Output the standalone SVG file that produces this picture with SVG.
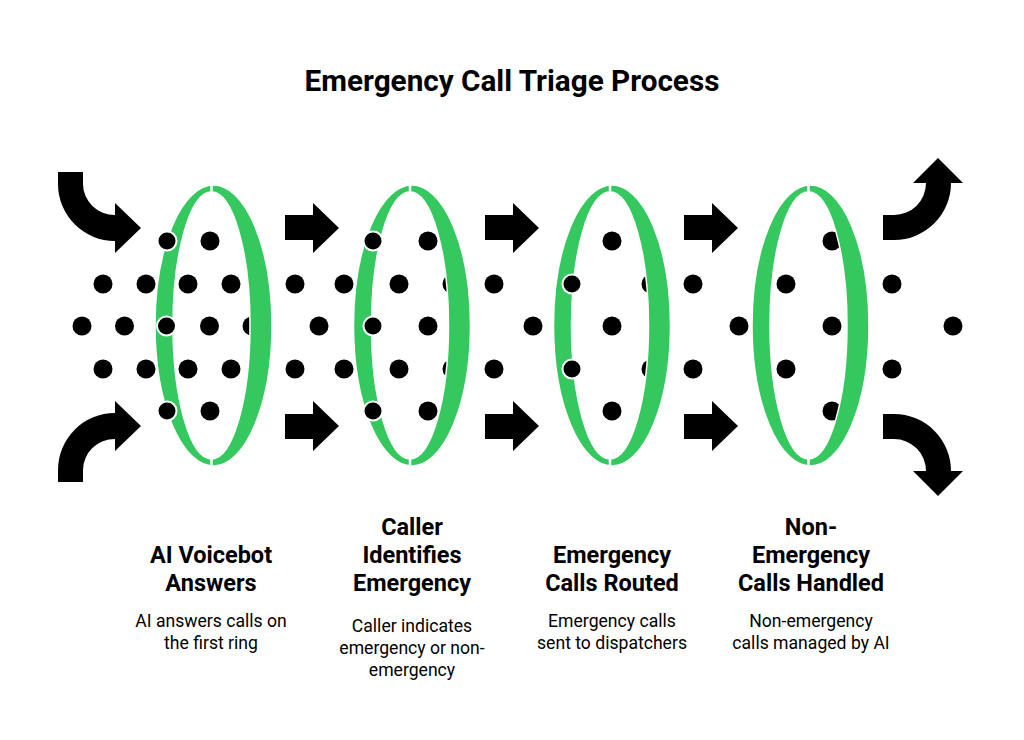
<svg xmlns="http://www.w3.org/2000/svg" width="1024" height="740" viewBox="0 0 1024 740">
  <style>
    .ring { fill: #34C85F; fill-rule: evenodd; stroke: #FFFFFF; stroke-width: 1.5; }
    .gap { fill: #FFFFFF; }
    .dot { fill: #000000; }
    .odot { fill: #000000; stroke: #FFFFFF; stroke-width: 2; }
    .arrow { fill: #000000; }
    .title { font-family: Roboto, "Liberation Sans", sans-serif; font-weight: 700; font-size: 29.7px; fill: #000000; text-anchor: middle; }
    .head { font-family: Roboto, "Liberation Sans", sans-serif; font-weight: 700; font-size: 23.5px; fill: #000000; text-anchor: middle; }
    .desc { font-family: Roboto, "Liberation Sans", sans-serif; font-weight: 400; font-size: 17.6px; fill: #000000; text-anchor: middle; }
  </style>
  <defs>
    <circle id="d" r="9.5" class="dot"/>
    <circle id="od" r="9.5" class="odot"/>
    <g id="ringShape">
      <path class="ring" d="M0,185 A58.5,140.5 0 0 0 0,466 A58.5,140.5 0 0 0 0,185 Z M-2,192 A38.5,133.5 0 0 1 -2,459 A38.5,133.5 0 0 1 -2,192 Z"/>
      <rect class="gap" x="-3.25" y="182" width="2.5" height="12"/>
      <rect class="gap" x="-3.25" y="457" width="2.5" height="12"/>
    </g>
  </defs>
  <rect width="1024" height="740" fill="#FFFFFF"/>

  <text class="title" x="512" y="91">Emergency Call Triage Process</text>

  <g id="dots-back">
    <!-- section 1 -->
    <use href="#d" x="210" y="241"/>
    <use href="#d" x="103" y="284"/><use href="#d" x="146" y="284"/><use href="#d" x="188" y="284"/><use href="#d" x="231" y="284"/>
    <use href="#d" x="82" y="326"/><use href="#d" x="124.5" y="326"/><use href="#d" x="209.5" y="326"/><use href="#d" x="252" y="326"/>
    <use href="#d" x="103" y="369"/><use href="#d" x="146" y="369"/><use href="#d" x="188" y="369"/><use href="#d" x="231" y="369"/>
    <use href="#d" x="210" y="411"/>
    <!-- section 2 -->
    <use href="#d" x="428" y="241"/>
    <use href="#d" x="295" y="284"/><use href="#d" x="344" y="284"/><use href="#d" x="399" y="284"/><use href="#d" x="452" y="284"/>
    <use href="#d" x="319" y="326"/><use href="#d" x="428" y="326"/>
    <use href="#d" x="295" y="369"/><use href="#d" x="344" y="369"/><use href="#d" x="399" y="369"/><use href="#d" x="452" y="369"/>
    <use href="#d" x="428" y="411"/>
    <!-- section 3 -->
    <use href="#d" x="612" y="241"/>
    <use href="#d" x="494" y="284"/><use href="#d" x="651" y="284"/>
    <use href="#d" x="533" y="326"/><use href="#d" x="612" y="326"/>
    <use href="#d" x="494" y="369"/><use href="#d" x="651" y="369"/>
    <use href="#d" x="612" y="411"/>
    <!-- section 4 -->
    <use href="#d" x="832" y="241"/>
    <use href="#d" x="693" y="284"/><use href="#d" x="786" y="284"/><use href="#d" x="892" y="284"/>
    <use href="#d" x="739" y="326"/><use href="#d" x="832" y="326"/><use href="#d" x="953" y="326"/>
    <use href="#d" x="693" y="369"/><use href="#d" x="786" y="369"/><use href="#d" x="892" y="369"/>
    <use href="#d" x="832" y="411"/>
  </g>

  <g id="connectors">
    <!-- incoming curved arrows -->
    <path class="arrow" d="M58,172 L83,172 L83,184 A32,31 0 0 0 115,215 L115,203 L141,228 L115,253 L115,241 A57,57 0 0 1 58,184 Z"/>
    <path class="arrow" transform="matrix(1,0,0,-1,0,654)" d="M58,172 L83,172 L83,184 A32,31 0 0 0 115,215 L115,203 L141,228 L115,253 L115,241 A57,57 0 0 1 58,184 Z"/>
    <!-- straight arrows between stages -->
    <path class="arrow" d="M285,215 L313,215 L313,203 L339,228 L313,253 L313,240 L285,240 Z"/>
    <path class="arrow" transform="matrix(1,0,0,-1,0,654)" d="M285,215 L313,215 L313,203 L339,228 L313,253 L313,240 L285,240 Z"/>
    <path class="arrow" d="M485,215 L513,215 L513,203 L539,228 L513,253 L513,240 L485,240 Z"/>
    <path class="arrow" transform="matrix(1,0,0,-1,0,654)" d="M485,215 L513,215 L513,203 L539,228 L513,253 L513,240 L485,240 Z"/>
    <path class="arrow" d="M684,215 L712,215 L712,203 L738,228 L712,253 L712,240 L684,240 Z"/>
    <path class="arrow" transform="matrix(1,0,0,-1,0,654)" d="M684,215 L712,215 L712,203 L738,228 L712,253 L712,240 L684,240 Z"/>
    <!-- outgoing curved arrows -->
    <path class="arrow" d="M883,215 L883,240 L894,240 A57,57 0 0 0 951,183 L963,183 L938,158 L913,183 L926,183 A32,32 0 0 1 894,215 Z"/>
    <path class="arrow" transform="matrix(1,0,0,-1,0,654)" d="M883,215 L883,240 L894,240 A57,57 0 0 0 951,183 L963,183 L938,158 L913,183 L926,183 A32,32 0 0 1 894,215 Z"/>
  </g>

  <g id="stage1">
    <use href="#ringShape" x="213.5"/>
    <use href="#od" x="167" y="241"/><use href="#od" x="166.5" y="326"/><use href="#od" x="167" y="411"/>
    <text class="head" x="211" y="563">AI Voicebot</text>
    <text class="head" x="211" y="591">Answers</text>
    <text class="desc" x="211" y="627">AI answers calls on</text>
    <text class="desc" x="211" y="649">the first ring</text>
  </g>

  <g id="stage2">
    <use href="#ringShape" x="412"/>
    <use href="#od" x="373" y="241"/><use href="#od" x="373" y="326"/><use href="#od" x="373" y="411"/>
    <text class="head" x="412" y="535">Caller</text>
    <text class="head" x="412" y="563">Identifies</text>
    <text class="head" x="412" y="591">Emergency</text>
    <text class="desc" x="412" y="632">Caller indicates</text>
    <text class="desc" x="412" y="654">emergency or non-</text>
    <text class="desc" x="412" y="676">emergency</text>
  </g>

  <g id="stage3">
    <use href="#ringShape" x="612"/>
    <use href="#od" x="572" y="284"/><use href="#od" x="572" y="369"/>
    <text class="head" x="612" y="563">Emergency</text>
    <text class="head" x="612" y="591">Calls Routed</text>
    <text class="desc" x="612" y="627">Emergency calls</text>
    <text class="desc" x="612" y="649">sent to dispatchers</text>
  </g>

  <g id="stage4">
    <use href="#ringShape" x="810.5"/>
    <text class="head" x="811" y="535">Non-</text>
    <text class="head" x="811" y="563">Emergency</text>
    <text class="head" x="811" y="591">Calls Handled</text>
    <text class="desc" x="811" y="627">Non-emergency</text>
    <text class="desc" x="811" y="649">calls managed by AI</text>
  </g>
</svg>
